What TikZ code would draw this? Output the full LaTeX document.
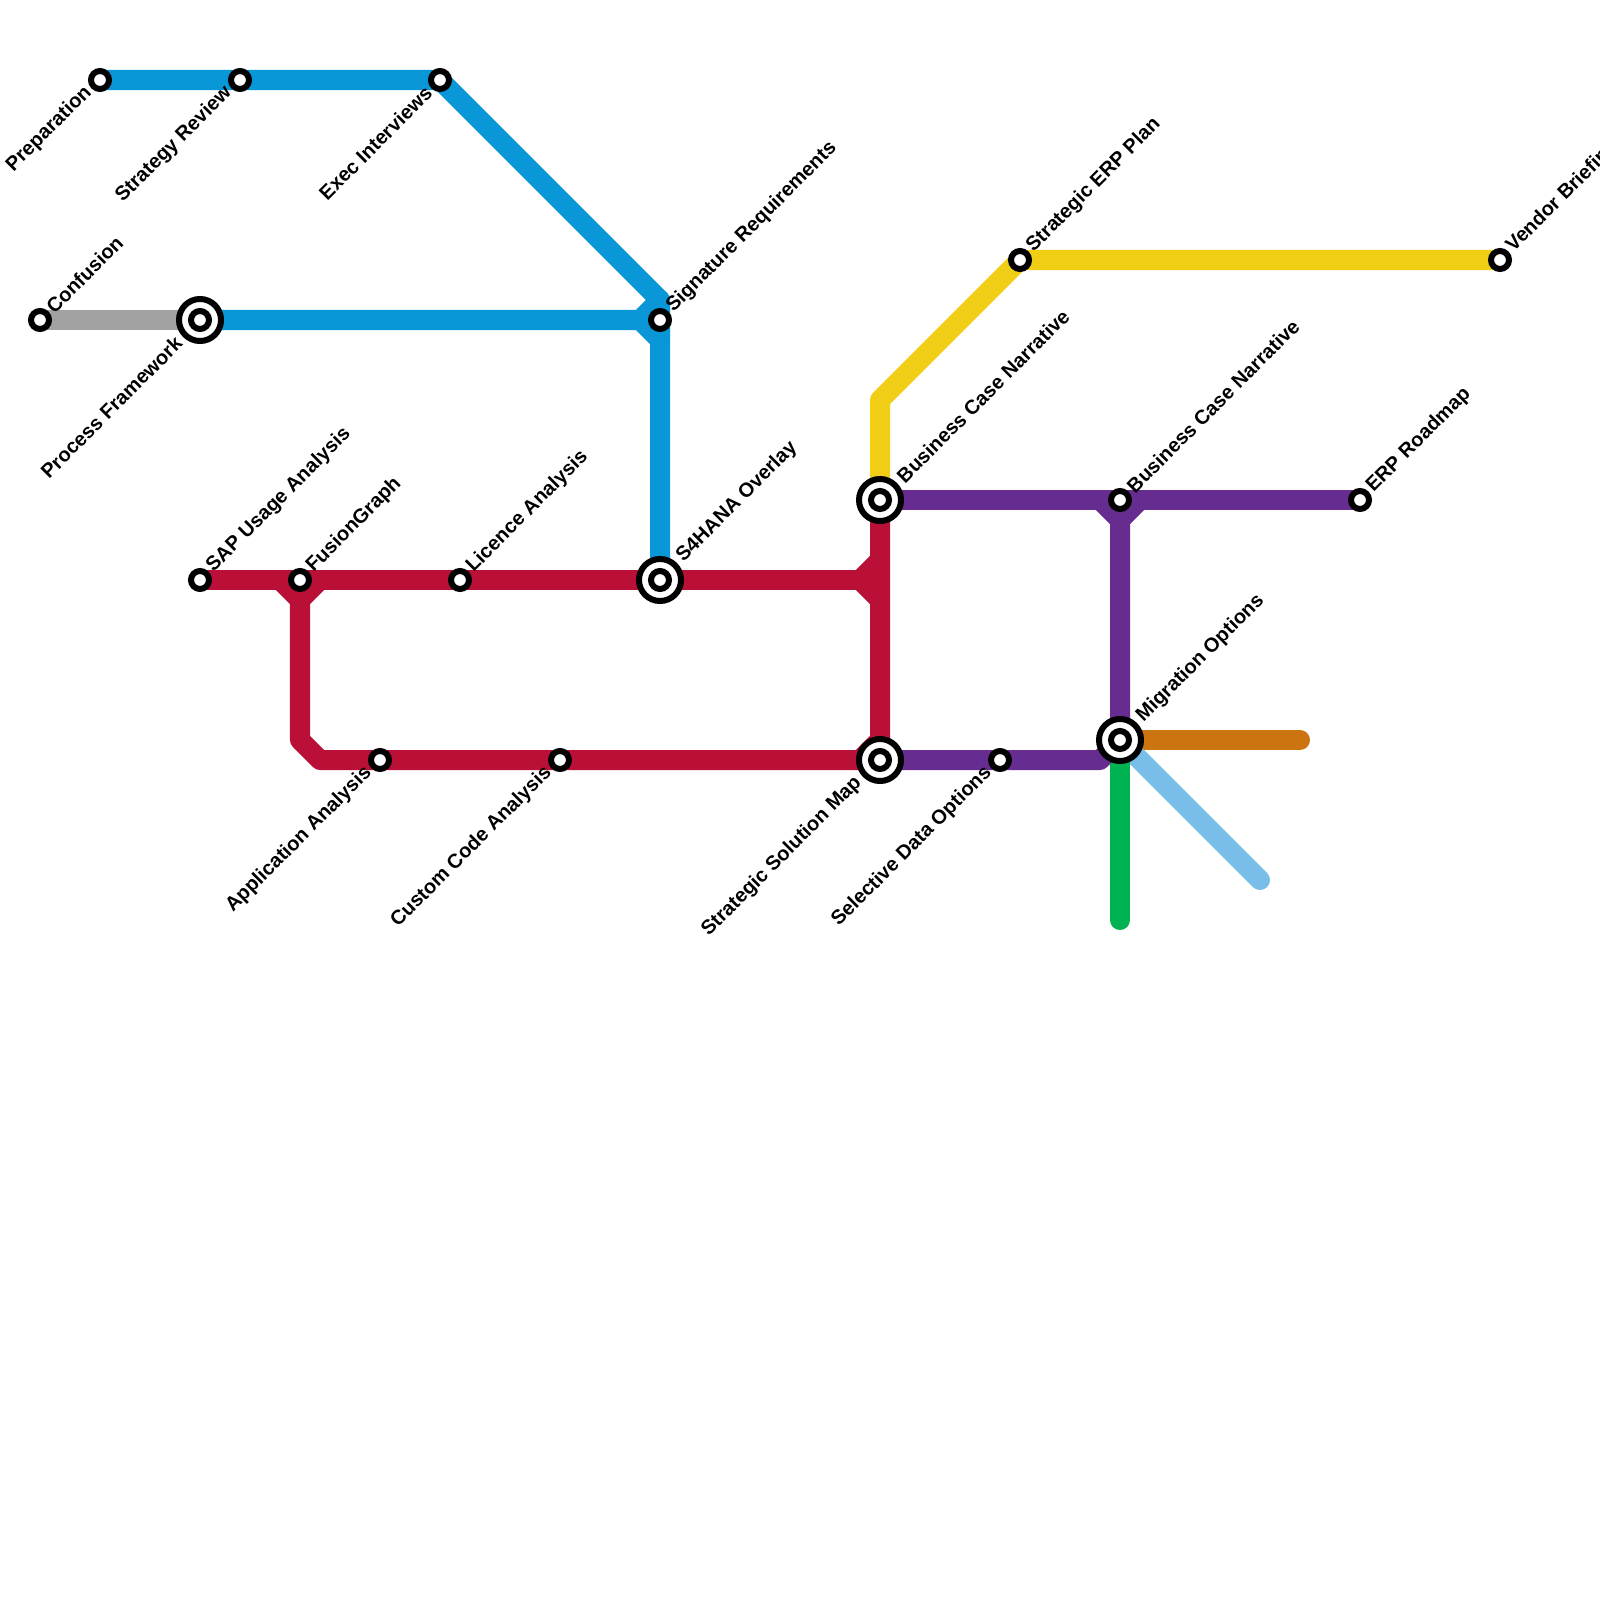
\documentclass[tikz,border=0pt]{standalone}
\usepackage{fontspec}
\setmainfont{Liberation Sans}
\usetikzlibrary{calc}
\definecolor{LineBlue}  {RGB}{  9, 151, 216}
\definecolor{LineRed}   {RGB}{186,  16,  56}
\definecolor{LinePurple}{RGB}{102,  44, 144}
\definecolor{LineYellow}{RGB}{240, 206,  21}
\definecolor{LineGrey}  {RGB}{162, 162, 162}
\definecolor{LineGreen} {RGB}{  0, 178,  81}
\definecolor{LineSky}   {RGB}{121, 189, 233}
\definecolor{LineOrange}{RGB}{204, 117,  16}
\pgfdeclarelayer{tracks}
\pgfsetlayers{tracks,main}
\tikzset{
  track/.style={line width=2mm, line cap=round, line join=round},
  stop/.style={circle, draw=black, fill=white, line width=0.6mm, minimum size=1.8mm, inner sep=0pt, outer sep=0pt},
  hub/.style={circle, draw=black, fill=white, line width=0.6mm, minimum size=4.2mm, inner sep=0pt, outer sep=0pt},
  tag/.style={font=\bfseries\fontsize{5.69}{6.8}\selectfont, inner sep=0pt, rotate=45},
  tagne/.style={tag, anchor=west},
  tagsw/.style={tag, anchor=east}
}
\begin{document}
\begin{tikzpicture}[x=0.01cm, y=-0.01cm]
  \useasboundingbox (0,0) rectangle (1600,1600);

  % stops
  \node[stop] (prep)      at (100,80)   {};
  \node[stop] (stratrev)  at (240,80)   {};
  \node[stop] (execint)   at (440,80)   {};
  \node[stop] (confusion) at (40,320)   {};
  \node[hub]  (procfw)    at (200,320)  {};
  \node[stop] (procfwin)  at (200,320)  {};
  \node[stop] (sigreq)    at (660,320)  {};
  \node[stop] (sapusage)  at (200,580)  {};
  \node[stop] (fusion)    at (300,580)  {};
  \node[stop] (licence)   at (460,580)  {};
  \node[hub]  (overlay)   at (660,580)  {};
  \node[stop] (overlayin) at (660,580)  {};
  \node[stop] (appana)    at (380,760)  {};
  \node[stop] (custcode)  at (560,760)  {};
  \node[hub]  (solmap)    at (880,760)  {};
  \node[stop] (solmapin)  at (880,760)  {};
  \node[stop] (seldata)   at (1000,760) {};
  \node[hub]  (bizcase)   at (880,500)  {};
  \node[stop] (bizcasein) at (880,500)  {};
  \node[stop] (stratplan) at (1020,260) {};
  \node[stop] (vendor)    at (1500,260) {};
  \node[stop] (bizcasetwo) at (1120,500) {};
  \node[stop] (roadmap)   at (1360,500) {};
  \node[hub]  (migrate)   at (1120,740) {};
  \node[stop] (migratein) at (1120,740) {};

  % bends and free ends
  \coordinate (blueknee)  at (660,300);
  \coordinate (bluein)    at (640,320);
  \coordinate (blueout)   at (660,340);
  \coordinate (redleft)   at (280,580);
  \coordinate (redright)  at (320,580);
  \coordinate (reddrop)   at (300,600);
  \coordinate (redlow)    at (300,740);
  \coordinate (redfoot)   at (320,760);
  \coordinate (redin)     at (860,580);
  \coordinate (redup)     at (880,560);
  \coordinate (reddown)   at (880,600);
  \coordinate (redend)    at (860,760);
  \coordinate (redtop)    at (880,740);
  \coordinate (yellowup)  at (880,400);
  \coordinate (purpleleft) at (1100,500);
  \coordinate (purpleright) at (1140,500);
  \coordinate (purpledrop) at (1120,520);
  \coordinate (purplefoot) at (1100,760);
  \coordinate (orangeend) at (1300,740);
  \coordinate (skyend)    at (1260,880);
  \coordinate (greenend)  at (1120,920);

  \begin{pgfonlayer}{tracks}
    \draw[track, LineGrey] (confusion.center) -- (procfw.center);
    \draw[track, LineBlue] (prep.center) -- (stratrev.center) -- (execint.center) -- (blueknee) -- (sigreq.center) -- (overlay.center);
    \draw[track, LineBlue] (procfw.center) -- (bluein) -- (blueknee);
    \draw[track, LineBlue] (bluein) -- (blueout);
    \draw[track, LineRed] (sapusage.center) -- (fusion.center) -- (licence.center) -- (overlay.center) -- (redin);
    \draw[track, LineRed] (redleft) -- (reddrop) -- (redright);
    \draw[track, LineRed] (reddrop) -- (redlow) -- (redfoot) -- (appana.center) -- (custcode.center) -- (redend) -- (redtop) -- (bizcase.center);
    \draw[track, LineRed] (redup) -- (redin) -- (reddown);
    \draw[track, LineYellow] (bizcase.center) -- (yellowup) -- (stratplan.center) -- (vendor.center);
    \draw[track, LineOrange] (migrate.center) -- (orangeend);
    \draw[track, LineSky] (migrate.center) -- (skyend);
    \draw[track, LineGreen] (migrate.center) -- (greenend);
    \draw[track, LinePurple] (bizcase.center) -- (bizcasetwo.center) -- (roadmap.center);
    \draw[track, LinePurple] (purpleleft) -- (purpledrop) -- (purpleright);
    \draw[track, LinePurple] (purpledrop) -- (migrate.center) -- (purplefoot) -- (seldata.center) -- (solmap.center);
  \end{pgfonlayer}

  % labels
  \node[tagsw] (prept)      at ($(prep)+(-11,9.5)$)      {Preparation};
  \node[tagsw] (stratrevt)  at ($(stratrev)+(-11,9.5)$)  {Strategy Review};
  \node[tagsw] (execintt)   at ($(execint)+(-11,9.5)$)   {Exec Interviews};
  \node[tagne] (confusiont) at ($(confusion)+(9,-10)$)   {Confusion};
  \node[tagsw] (procfwt)    at ($(procfw)+(-21,19.5)$)   {Process Framework};
  \node[tagne] (sigreqt)    at ($(sigreq)+(9.5,-10.5)$)  {Signature Requirements};
  \node[tagne] (sapusaget)  at ($(sapusage)+(9.5,-10.5)$) {SAP Usage Analysis};
  \node[tagne] (fusiont)    at ($(fusion)+(9.5,-10.5)$)  {FusionGraph};
  \node[tagne] (licencet)   at ($(licence)+(9.5,-10.5)$) {Licence Analysis};
  \node[tagne] (overlayt)   at ($(overlay)+(19.5,-20.5)$) {S4HANA Overlay};
  \node[tagsw] (appanat)    at ($(appana)+(-11,9.5)$)    {Application Analysis};
  \node[tagsw] (custcodet)  at ($(custcode)+(-11,9.5)$)  {Custom Code Analysis};
  \node[tagsw] (solmapt)    at ($(solmap)+(-21,19.5)$)   {Strategic Solution Map};
  \node[tagsw] (seldatat)   at ($(seldata)+(-11,9.5)$)   {Selective Data Options};
  \node[tagne] (bizcaset)   at ($(bizcase)+(19.5,-20.5)$) {Business Case Narrative};
  \node[tagne] (stratplant) at ($(stratplan)+(9.5,-10.5)$) {Strategic ERP Plan};
  \node[tagne] (vendort)    at ($(vendor)+(9.5,-10.5)$)  {Vendor Briefing};
  \node[tagne] (bizcasetwot) at ($(bizcasetwo)+(9.5,-10.5)$) {Business Case Narrative};
  \node[tagne] (roadmapt)   at ($(roadmap)+(9.5,-10.5)$) {ERP Roadmap};
  \node[tagne] (migratet)   at ($(migrate)+(19.5,-20.5)$) {Migration Options};
\end{tikzpicture}
\end{document}
